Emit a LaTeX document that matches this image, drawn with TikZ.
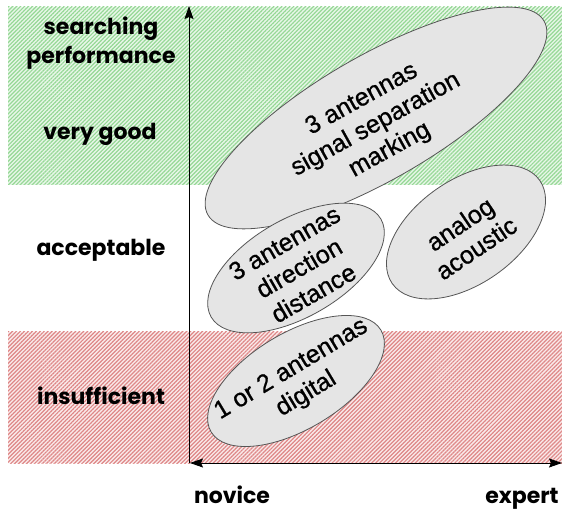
\documentclass[tikz,border=0pt]{standalone}
\usepackage{fontspec}
\setmainfont{Liberation Sans}
\newfontfamily\labelfont{Poppins}
\newfontfamily\blobfont{Liberation Sans}[FakeBold=0.8]
\usetikzlibrary{arrows.meta, shapes.geometric, patterns.meta}
\definecolor{goodbg}{RGB}{232,247,232}
\definecolor{goodline}{RGB}{150,216,150}
\definecolor{badbg}{RGB}{250,234,234}
\definecolor{badline}{RGB}{222,135,135}
\definecolor{blobfill}{RGB}{229,229,229}
\definecolor{blobline}{RGB}{85,85,85}
\tikzset{
  chart/.style={
	x=1pt, y=-1pt, % one unit is one pixel, y runs down
	>={Stealth[length=13pt, width=9pt, inset=2pt]}, % filled arrow heads
  },
  rating/.style={font=\labelfont\bfseries\fontsize{22}{27}\selectfont, align=center, inner sep=0pt}, % axis texts
  method/.style={ellipse, draw=blobline, fill=blobfill, line width=0.8pt, inner sep=0pt}, % grey ellipses
  methodtext/.style={align=center, inner sep=0pt, font=\blobfont\fontsize{25}{29}\selectfont}, % text in the ellipses
  hatch/.style={pattern={Lines[angle=45, distance=2.8pt, line width=1.2pt]}}, % band stripes
}

\begin{document}
\begin{tikzpicture}[chart]
\useasboundingbox (0,0) rectangle (562,510);

% bands
\fill[goodbg] (8,7) rectangle (562,185);
\fill[hatch, pattern color=goodline] (8,7) rectangle (562,185);
\fill[badbg] (8,332) rectangle (562,463);
\fill[hatch, pattern color=badline] (8,332) rectangle (562,463);

% axes
\coordinate (origin) at (189,463);
\coordinate (ytop) at (189,6);
\coordinate (xleft) at (190,463);
\coordinate (xright) at (562,463);
\draw[->, line width=0.8pt] (origin) -- (ytop);
\draw[<->, line width=0.8pt] (xleft) -- (xright);

% rating labels
\node[rating] (perf) at (101,43) {searching\\[2pt]performance};
\node[rating] (vgood) at (100,134) {very good};
\node[rating] (accept) at (101,250) {acceptable};
\node[rating] (insuf) at (101,396) {insufficient};
\node[rating, anchor=base, text depth=0pt] (novice) at (232,503) {novice};
\node[rating, anchor=base, text depth=0pt] (expert) at (522,503) {expert};

% methods
\node[method, minimum width=388, minimum height=124, rotate=30] (sep) at (376,118) {};
\node[method, minimum width=196, minimum height=98, rotate=30] (dir) at (296,268) {};
\node[method, minimum width=180, minimum height=104, rotate=35] (ana) at (466,232) {};
\node[method, minimum width=198, minimum height=96, rotate=31] (dig) at (296,381) {};
\node[methodtext, rotate=29] (septext) at (376,125) {3 antennas\\signal separation\\marking};
\node[methodtext, rotate=30] (dirtext) at (299,268) {3 antennas\\direction\\distance};
\node[methodtext, rotate=34] (anatext) at (468,236) {analog\\acoustic};
\node[methodtext, rotate=31] (digtext) at (299,382) {1 or 2 antennas\\digital};
\end{tikzpicture}
\end{document}
